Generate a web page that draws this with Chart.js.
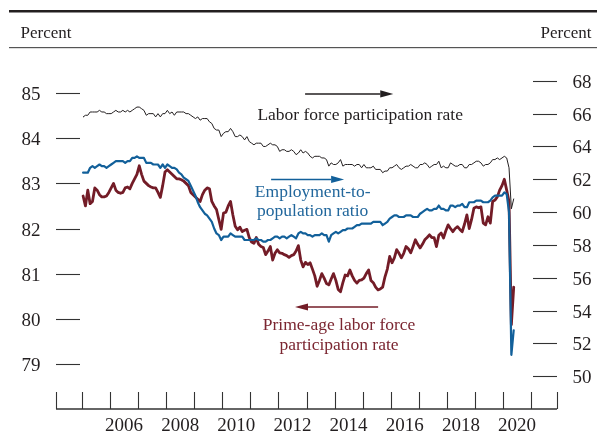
<!DOCTYPE html>
<html>
<head>
<meta charset="utf-8">
<script src="https://cdn.jsdelivr.net/npm/chart.js@4.4.1/dist/chart.umd.min.js"></script>
<style>
  html, body { margin: 0; padding: 0; background: #fff; }
  #wrap { width: 600px; height: 433px; }
</style>
</head>
<body>
<div id="wrap"><canvas id="grafico" width="600" height="433"></canvas></div>
<script>
// monthly series, Jan 2005 .. May 2020
const startYear = 2005;

const lfpr = [
  65.8, 65.9, 65.9, 66.1, 66.1, 66.1, 66.1, 66.2, 66.1, 66.1, 66.0, 66.0,
  66.0, 66.1, 66.2, 66.1, 66.1, 66.2, 66.1, 66.2, 66.1, 66.2, 66.3, 66.4,
  66.4, 66.3, 66.2, 65.9, 66.0, 66.0, 66.0, 65.8, 66.0, 65.8, 66.0, 66.0,
  66.2, 66.0, 66.1, 65.9, 66.1, 66.1, 66.1, 66.1, 66.0, 66.0, 65.9, 65.8,
  65.7, 65.8, 65.6, 65.7, 65.7, 65.7, 65.5, 65.4, 65.1, 65.0, 65.0, 64.6,
  64.8, 64.9, 64.9, 65.1, 64.9, 64.6, 64.6, 64.7, 64.6, 64.4, 64.6, 64.3,
  64.2, 64.1, 64.2, 64.2, 64.2, 64.0, 64.0, 64.1, 64.2, 64.1, 64.1, 64.0,
  63.7, 63.8, 63.8, 63.7, 63.7, 63.8, 63.7, 63.5, 63.6, 63.8, 63.6, 63.7,
  63.6, 63.4, 63.3, 63.4, 63.4, 63.4, 63.3, 63.3, 63.2, 62.8, 63.0, 62.9,
  62.9, 63.0, 63.2, 62.8, 62.9, 62.9, 62.9, 62.9, 62.8, 62.9, 62.9, 62.7,
  62.9, 62.7, 62.7, 62.7, 62.8, 62.6, 62.6, 62.6, 62.4, 62.5, 62.5, 62.7,
  62.7, 62.8, 62.9, 62.7, 62.6, 62.7, 62.8, 62.8, 62.9, 62.8, 62.7, 62.7,
  62.9, 62.9, 63.0, 62.9, 62.7, 62.8, 62.9, 62.9, 63.1, 62.7, 62.8, 62.7,
  62.7, 63.0, 62.9, 62.8, 62.8, 62.9, 62.9, 62.7, 62.7, 62.9, 62.9, 63.0,
  63.1, 63.1, 63.0, 62.8, 62.9, 62.9, 63.0, 63.2, 63.2, 63.3, 63.2, 63.3,
  63.4, 63.3, 62.7, 60.2, 60.8
];

const epop = [
  62.4, 62.4, 62.4, 62.7, 62.8, 62.7, 62.8, 62.9, 62.8, 62.8, 62.7, 62.8,
  62.9, 63.0, 63.1, 63.1, 63.1, 63.1, 63.0, 63.1, 63.1, 63.3, 63.3, 63.4,
  63.3, 63.3, 63.3, 63.0, 63.0, 63.0, 62.9, 62.9, 62.9, 62.7, 62.9, 62.7,
  62.9, 62.8, 62.7, 62.7, 62.6, 62.4, 62.3, 62.1, 62.0, 61.9, 61.6, 61.3,
  61.0, 60.6, 60.3, 60.1, 59.9, 59.8, 59.6, 59.4, 59.0, 58.7, 58.6, 58.3,
  58.5, 58.5, 58.5, 58.7, 58.6, 58.5, 58.5, 58.5, 58.5, 58.3, 58.3, 58.3,
  58.3, 58.3, 58.4, 58.3, 58.3, 58.2, 58.2, 58.3, 58.3, 58.4, 58.5, 58.5,
  58.4, 58.5, 58.5, 58.4, 58.5, 58.6, 58.5, 58.4, 58.7, 58.8, 58.7, 58.7,
  58.6, 58.6, 58.5, 58.6, 58.6, 58.6, 58.7, 58.6, 58.6, 58.2, 58.6, 58.7,
  58.8, 58.7, 58.8, 58.9, 58.9, 59.0, 59.0, 59.0, 59.1, 59.2, 59.2, 59.3,
  59.3, 59.3, 59.3, 59.3, 59.4, 59.4, 59.4, 59.4, 59.2, 59.3, 59.4, 59.6,
  59.7, 59.8, 59.8, 59.7, 59.7, 59.7, 59.8, 59.8, 59.8, 59.7, 59.7, 59.7,
  59.9, 60.0, 60.1, 60.2, 60.1, 60.1, 60.2, 60.2, 60.4, 60.2, 60.2, 60.1,
  60.1, 60.4, 60.4, 60.3, 60.4, 60.4, 60.5, 60.3, 60.3, 60.6, 60.6, 60.6,
  60.7, 60.7, 60.7, 60.6, 60.6, 60.6, 60.7, 60.9, 61.0, 61.0, 61.0, 61.0,
  61.2, 61.1, 60.0, 51.3, 52.8
];

const primeAge = [
  82.72, 82.5, 82.85, 82.55, 82.6, 82.9, 82.85, 82.75, 82.7, 82.7, 82.72, 82.8,
  82.9, 83.0, 82.85, 82.8, 82.78, 82.8, 82.9, 82.92, 82.88, 83.0, 83.1, 83.2,
  83.39, 83.2, 83.05, 83.0, 82.95, 82.92, 82.9, 82.9, 82.8, 82.69, 82.95, 83.25,
  83.3, 83.25, 83.2, 83.15, 83.1, 83.1, 83.08, 83.05, 83.0, 82.95, 82.8, 82.75,
  82.7, 82.65, 82.6, 82.75, 82.85, 82.9, 82.88, 82.6, 82.5, 82.42, 82.2, 81.98,
  82.34, 82.36, 82.5, 82.6, 82.3, 82.05, 81.97, 82.03, 81.93, 81.96, 81.98, 81.8,
  81.7, 81.67, 81.8, 81.65, 81.6, 81.58, 81.42, 81.5, 81.6, 81.3, 81.45, 81.53,
  81.46, 81.45, 81.42, 81.4, 81.36, 81.4, 81.42, 81.5, 81.62, 81.3, 81.15, 81.25,
  81.2, 81.24, 81.1, 80.95, 80.72, 80.85, 81.0, 80.9, 80.78, 80.75, 80.88, 81.0,
  80.85, 80.65, 80.6, 80.8, 80.97, 80.95, 81.08, 80.95, 80.85, 80.79, 80.85, 80.86,
  80.9, 81.0, 81.08, 80.85, 80.8, 80.7, 80.64, 80.66, 80.7, 80.93, 81.1, 81.38,
  81.24, 81.35, 81.53, 81.45, 81.35, 81.45, 81.6, 81.55, 81.46, 81.6, 81.75, 81.65,
  81.57, 81.65, 81.75, 81.8, 81.86, 81.8, 81.8, 81.6, 81.85, 81.9, 81.79, 81.95,
  82.08, 82.0, 81.93, 82.0, 82.04, 81.98, 81.93, 82.1, 82.3, 82.0, 82.2, 82.45,
  82.48, 82.46, 82.48, 82.12, 82.08, 82.26, 82.12, 82.6, 82.63, 82.7, 82.85, 82.95,
  83.09, 82.85, 82.6, 79.87, 80.7
];

const yearTicks = [2005, 2006, 2007, 2008, 2009, 2010, 2011, 2012, 2013,
                   2014, 2015, 2016, 2017, 2018, 2019, 2020, 2021];
const yearLabels = [2006, 2008, 2010, 2012, 2014, 2016, 2018, 2020];
const leftTicks = [79, 80, 81, 82, 83, 84, 85];
const rightTicks = [50, 52, 54, 56, 58, 60, 62, 64, 66, 68];

const serif = '"Liberation Serif", "DejaVu Serif", serif';
const preto = '#231f20';
const azul = '#12609a';
const azulTexto = '#22679c';
const vinho = '#731c27';
const vinhoTexto = '#7b2631';

const pontos = serie => serie.map((v, i) => ({ x: startYear + i / 12 + 0.045, y: v }));

function flecha(ctx, x1, x2, y, cor) {
    // x2 is the tip
    const dir = Math.sign(x2 - x1);
    const base = x2 - dir * 13;
    ctx.strokeStyle = cor;
    ctx.fillStyle = cor;
    ctx.lineWidth = 1.5;
    ctx.beginPath();
    ctx.moveTo(x1, y);
    ctx.lineTo(base, y);
    ctx.stroke();
    ctx.beginPath();
    ctx.moveTo(x2, y);
    ctx.lineTo(base, y - 3.6);
    ctx.lineTo(base, y + 3.6);
    ctx.closePath();
    ctx.fill();
}

const moldura = {
    id: 'moldura',
    beforeDatasetsDraw(chart) {
        const { ctx, chartArea: a, scales } = chart;
        const { x, yL, yR } = scales;
        ctx.save();

        // header rules
        ctx.fillStyle = preto;
        ctx.fillRect(9, 10, 588, 2.5);
        ctx.fillStyle = '#555';
        ctx.fillRect(9, 47, 588, 1.2);

        ctx.fillStyle = preto;
        ctx.font = '17px ' + serif;
        ctx.textBaseline = 'alphabetic';
        ctx.textAlign = 'left';
        ctx.fillText('Percent', 20.5, 37.5);
        ctx.textAlign = 'right';
        ctx.fillText('Percent', 591.5, 37.5);

        // y axes: short marks inside the plot, labels outside
        ctx.strokeStyle = '#333';
        ctx.lineWidth = 1.1;
        ctx.font = '19px ' + serif;
        leftTicks.forEach(v => {
            const py = Math.round(yL.getPixelForValue(v)) + 0.5;
            ctx.beginPath();
            ctx.moveTo(a.left, py);
            ctx.lineTo(a.left + 24, py);
            ctx.stroke();
            ctx.textAlign = 'right';
            ctx.fillText(String(v), 40.5, py + 6.5);
        });
        rightTicks.forEach(v => {
            const py = Math.round(yR.getPixelForValue(v)) + 0.5;
            ctx.beginPath();
            ctx.moveTo(a.right - 24, py);
            ctx.lineTo(a.right, py);
            ctx.stroke();
            ctx.textAlign = 'left';
            ctx.fillText(String(v), 572.5, py + 6.5);
        });

        // x axis
        ctx.strokeStyle = '#333';
        ctx.lineWidth = 1.3;
        ctx.beginPath();
        ctx.moveTo(a.left, a.bottom);
        ctx.lineTo(a.right, a.bottom);
        ctx.stroke();
        ctx.lineWidth = 1.1;
        const marcas = [a.left, a.right].concat(yearTicks.map(t => x.getPixelForValue(t)));
        marcas.forEach(px => {
            const rx = Math.round(px) + 0.5;
            ctx.beginPath();
            ctx.moveTo(rx, a.bottom - 17);
            ctx.lineTo(rx, a.bottom);
            ctx.stroke();
        });
        ctx.textAlign = 'center';
        yearLabels.forEach(t => {
            ctx.fillText(String(t), x.getPixelForValue(t + 0.5), a.bottom + 22);
        });
        ctx.restore();
    },
    afterDatasetsDraw(chart) {
        const { ctx, scales } = chart;
        const { x, yL, yR } = scales;
        ctx.save();
        ctx.font = '17.5px ' + serif;
        ctx.textAlign = 'center';
        ctx.textBaseline = 'alphabetic';

        flecha(ctx, x.getPixelForValue(2012.95), x.getPixelForValue(2016.09), yR.getPixelForValue(67.2), preto);
        ctx.fillStyle = preto;
        ctx.fillText('Labor force participation rate', x.getPixelForValue(2014.91), yR.getPixelForValue(65.61));

        flecha(ctx, x.getPixelForValue(2011.74), x.getPixelForValue(2014.34), yR.getPixelForValue(61.99), azul);
        ctx.fillStyle = azulTexto;
        ctx.fillText('Employment-to-', x.getPixelForValue(2013.22), yR.getPixelForValue(60.92));
        ctx.fillText('population ratio', x.getPixelForValue(2013.22), yR.getPixelForValue(59.76));

        flecha(ctx, x.getPixelForValue(2015.55), x.getPixelForValue(2012.59), yL.getPixelForValue(80.26), vinho);
        ctx.fillStyle = vinhoTexto;
        ctx.fillText('Prime-age labor force', x.getPixelForValue(2014.16), yL.getPixelForValue(79.75));
        ctx.fillText('participation rate', x.getPixelForValue(2014.16), yL.getPixelForValue(79.31));
        ctx.restore();
    }
};

const ctx = document.getElementById('grafico').getContext('2d');
const grafico = new Chart(ctx, {
    type: 'line',
    data: {
        datasets: [{
            label: 'Labor force participation rate',
            data: pontos(lfpr),
            yAxisID: 'yR',
            borderColor: preto,
            borderWidth: 1
        },
        {
            label: 'Employment-to-population ratio',
            data: pontos(epop),
            yAxisID: 'yR',
            borderColor: azul,
            borderWidth: 2.2
        },
        {
            label: 'Prime-age labor force participation rate',
            data: pontos(primeAge),
            yAxisID: 'yL',
            borderColor: vinho,
            borderWidth: 2.8
        }]
    },
    plugins: [moldura],
    options: {
        responsive: false,
        animation: false,
        devicePixelRatio: 1,
        layout: {
            padding: { left: 56, right: 43, top: 48, bottom: 24 }
        },
        elements: {
            point: { radius: 0 },
            line: { tension: 0, borderJoinStyle: 'round', borderCapStyle: 'round' }
        },
        scales: {
            x: { type: 'linear', min: 2004.08, max: 2021.92, display: false },
            yL: { type: 'linear', position: 'left', min: 78, max: 86, display: false },
            yR: { type: 'linear', position: 'right', min: 48, max: 70, display: false }
        },
        plugins: {
            legend: { display: false },
            tooltip: { enabled: false }
        }
    }
});
</script>
</body>
</html>
